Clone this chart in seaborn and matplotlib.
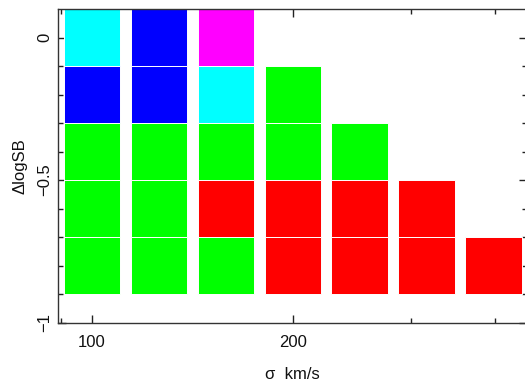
import numpy as np
import matplotlib
matplotlib.use("Agg")
import matplotlib.pyplot as plt
import seaborn as sns
from matplotlib.ticker import FixedLocator, NullFormatter, FixedFormatter

# ---- data ----
log_sigma_centers = [2.0, 2.1, 2.2, 2.3, 2.4, 2.5, 2.6]   # log10(sigma / km/s)
row_lower_edges = [-0.1, -0.3, -0.5, -0.7, -0.9]           # top row first
row_height = 0.2
# cell classes per column, top row to bottom row (None = empty)
cell_classes = [
    ["cyan", "blue", "green", "green", "green"],
    ["blue", "blue", "green", "green", "green"],
    ["magenta", "cyan", "green", "red", "green"],
    [None, "green", "green", "red", "red"],
    [None, None, "green", "red", "red"],
    [None, None, None, "red", "red"],
    [None, None, None, None, "red"],
]
class_colors = {"cyan": "#00FFFF", "blue": "#0000FF", "green": "#00FF00",
                "red": "#FF0000", "magenta": "#FF00FF"}
x_major = [100, 200]
x_major_labels = ["100", "200"]
x_minor = [90, 300, 400]
y_major = [0, -0.5, -1]
y_major_labels = ["0", "\u22120.5", "\u22121"]
y_minor = [-0.1, -0.2, -0.3, -0.4, -0.6, -0.7, -0.8, -0.9]

# ---- style ----
sns.set_theme(style="ticks")
plt.rcParams["font.family"] = ["Liberation Sans", "DejaVu Sans"]

fig = plt.figure(figsize=(5.25, 3.86), dpi=100)
ax = fig.add_axes([57.7 / 525, 1 - 322.7 / 386, (526.5 - 57.7) / 525, (322.7 - 9) / 386])
ax.set_xscale("log")

half = 0.042
for c, classes in zip(log_sigma_centers, cell_classes):
    left = 10 ** (c - half)
    width = 10 ** (c + half) - left
    for lo, cls in zip(row_lower_edges, classes):
        if cls is None:
            continue
        ax.bar(left, row_height, width=width, bottom=lo, align="edge",
               color=class_colors[cls], edgecolor="white", linewidth=0.7)

ax.set_xlim(10 ** (2 - 34 / 669.8), 10 ** (2 + 434.8 / 669.8))
ax.set_ylim(-1, 0.1)

ax.xaxis.set_major_locator(FixedLocator(x_major))
ax.xaxis.set_major_formatter(FixedFormatter(x_major_labels))
ax.xaxis.set_minor_locator(FixedLocator(x_minor))
ax.xaxis.set_minor_formatter(NullFormatter())
ax.yaxis.set_major_locator(FixedLocator(y_major))
ax.yaxis.set_major_formatter(FixedFormatter(y_major_labels))
ax.yaxis.set_minor_locator(FixedLocator(y_minor))

ax.tick_params(which="both", direction="in", top=True, right=True,
               color="#222222", width=1, labelsize=12, labelcolor="#111111")
ax.tick_params(which="major", length=6)
ax.tick_params(which="minor", length=3.5)
ax.tick_params(axis="x", which="major", pad=9)
ax.tick_params(axis="y", which="major", pad=4)
for lab in ax.get_yticklabels():
    lab.set_rotation(90)
    lab.set_va("center")

for s in ax.spines.values():
    s.set_color("#333333")
    s.set_linewidth(1)
ax.spines["right"].set_visible(False)

ax.set_xlabel("\u03c3  km/s", fontsize=12, color="#111111", labelpad=12)
ax.set_ylabel("\u0394logSB", fontsize=12, color="#111111", labelpad=7)

fig.savefig("out.png", dpi=100)
